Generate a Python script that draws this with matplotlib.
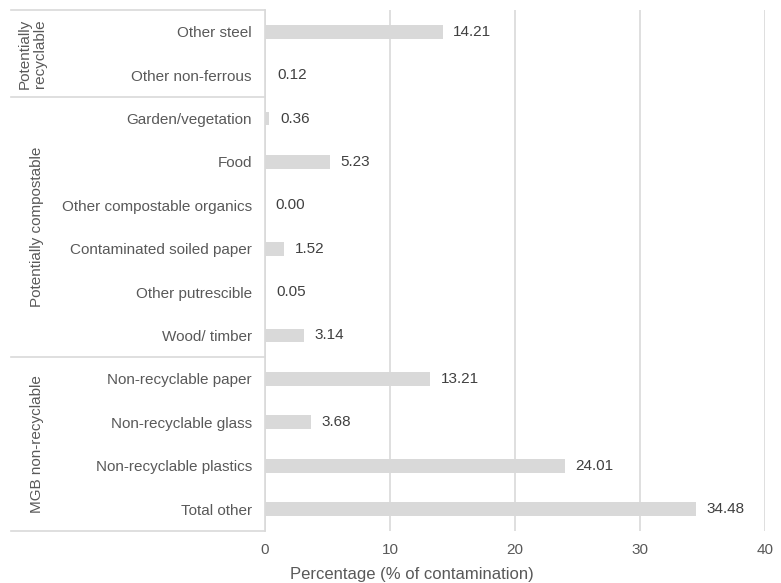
import matplotlib.pyplot as plt
import matplotlib.transforms as mtransforms

plt.rcParams['font.family'] = ['Liberation Sans', 'DejaVu Sans']

categories = ['Other steel', 'Other non-ferrous', 'Garden/vegetation', 'Food',
              'Other compostable organics', 'Contaminated soiled paper',
              'Other putrescible', 'Wood/ timber', 'Non-recyclable paper',
              'Non-recyclable glass', 'Non-recyclable plastics', 'Total other']
values = [14.21, 0.12, 0.36, 5.23, 0.00, 1.52, 0.05, 3.14, 13.21, 3.68, 24.01, 34.48]
groups = ['Potentially\nrecyclable', 'Potentially compostable', 'MGB non-recyclable']
group_spans = [(0, 1), (2, 7), (8, 11)]
xticks = [0, 10, 20, 30, 40]

text_col = '#595959'
grey = '#d9d9d9'

fig = plt.figure(figsize=(7.81, 5.83), dpi=100)
ax = fig.add_axes([0.3393, 0.0897, 0.6402, 0.8931])

ypos = list(range(len(categories)))
ax.barh(ypos, values, height=0.32, color=grey, zorder=2)
for y, v in zip(ypos, values):
    ax.annotate(f'{v:.2f}', (v, y), xytext=(7.5, 0), textcoords='offset points',
                va='center', ha='left', fontsize=11, color='#404040')

ax.set_xlim(0, 40)
ax.set_ylim(11.5, -0.5)
ax.set_xticks(xticks)
ax.set_yticks(ypos)
ax.set_yticklabels(categories)
ax.tick_params(length=0, labelsize=11, colors=text_col)
ax.tick_params(axis='y', pad=9.5)
ax.tick_params(axis='x', pad=9)
ax.grid(axis='x', color=grey, linewidth=1.2, zorder=0)
for s in ['top', 'right', 'bottom']:
    ax.spines[s].set_visible(False)
ax.spines['left'].set_color(grey)
ax.spines['left'].set_linewidth(1.2)

# group separators and labels
trans = mtransforms.blended_transform_factory(ax.transAxes, ax.transData)
for yb in [-0.5, 1.5, 7.5, 11.5]:
    ax.plot([-0.508, 0], [yb, yb], transform=trans, color=grey, lw=1.2, clip_on=False)
for g, (a, b) in zip(groups, group_spans):
    xg = -0.465 if '\n' in g else -0.455
    ax.text(xg, (a + b) / 2, g, transform=trans, rotation=90, ha='center',
            va='center', fontsize=11, color=text_col, linespacing=1.15)

fig.text(412 / 781, 1 - 575 / 583, 'Percentage (% of contamination)', ha='center',
         va='center', fontsize=12, color=text_col)

fig.savefig('out.png', dpi=100)
